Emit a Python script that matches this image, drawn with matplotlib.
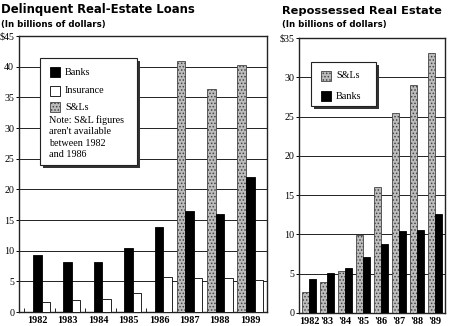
import matplotlib
matplotlib.use("Agg")
import matplotlib.pyplot as plt
from matplotlib.patches import Rectangle
import numpy as np

# Delinquent real-estate loans (billions of dollars)
years = ["1982", "1983", "1984", "1985", "1986", "1987", "1988", "1989"]
banks_del = [9.3, 8.1, 8.1, 10.4, 13.8, 16.5, 15.9, 22.0]
insur_del = [1.6, 2.0, 2.1, 3.1, 5.7, 5.5, 5.5, 5.2]
snl_del = [np.nan, np.nan, np.nan, np.nan, np.nan, 41.0, 36.4, 40.3]

# Repossessed real estate (billions of dollars)
years_r = ["1982", "'83", "'84", "'85", "'86", "'87", "'88", "'89"]
snl_rep = [2.7, 3.9, 5.4, 9.9, 16.0, 25.5, 29.0, 33.1]
banks_rep = [4.3, 5.1, 5.7, 7.1, 8.8, 10.4, 10.6, 12.6]

W, H = 449, 326
plt.rcParams['hatch.linewidth'] = 0.7
serif = "Liberation Serif"
snl_style = dict(facecolor="#bdbdbd", edgecolor="#444444", hatch=".....", linewidth=0.6)


def fx(px):
    return px / W


def fy(py):
    return 1 - py / H


def legend_box(fig, x0, y0, x1, y1):
    # box with a drop shadow, in pixel coords of the figure
    fig.patches.append(Rectangle((fx(x0 + 2.5), fy(y1 + 2.5)), fx(x1 - x0), (y1 - y0) / H,
                                 transform=fig.transFigure, facecolor="#333333", edgecolor="none", zorder=5))
    fig.patches.append(Rectangle((fx(x0), fy(y1)), fx(x1 - x0), (y1 - y0) / H,
                                 transform=fig.transFigure, facecolor="white", edgecolor="#222222",
                                 linewidth=0.8, zorder=6))


def legend_item(fig, px, py, label, **style):
    fig.patches.append(Rectangle((fx(px), fy(py + 5)), fx(10), 10 / H, transform=fig.transFigure,
                                 zorder=7, **style))
    fig.text(fx(px + 15), fy(py), label, fontsize=7.3, family=serif, va="center", zorder=8)


fig = plt.figure(figsize=(W / 100, H / 100), dpi=100)

# ---- left chart
ax1 = fig.add_axes([fx(19), fy(312), fx(267 - 19), (312 - 36) / H])
x = np.arange(len(years))
w = 0.28
ax1.bar(x - w, snl_del, w, zorder=3, **snl_style)
ax1.bar(x, banks_del, w, color="black", edgecolor="black", linewidth=0.6, zorder=3)
ax1.bar(x + w, insur_del, w, color="white", edgecolor="black", linewidth=0.6, zorder=3)
ax1.set_xlim(-0.6, 7.55)
ax1.set_ylim(0, 45)
ax1.set_yticks(range(0, 46, 5))
ax1.set_yticklabels(["0", "5", "10", "15", "20", "25", "30", "35", "40", "$45"])
ax1.set_xticks(x)
ax1.set_xticklabels(years)
ax1.set_xticks(x - 1.5 * w, minor=True)
ax1.tick_params(axis="x", which="minor", direction="in", length=3, width=0.6)

# ---- right chart
ax2 = fig.add_axes([fx(299), fy(313), fx(445 - 299), (313 - 38) / H])
x2 = np.arange(len(years_r))
w2 = 0.39
ax2.bar(x2 - w2 / 2, snl_rep, w2, zorder=3, **snl_style)
ax2.bar(x2 + w2 / 2, banks_rep, w2, color="black", edgecolor="black", linewidth=0.6, zorder=3)
ax2.set_xlim(-0.56, 7.56)
ax2.set_ylim(0, 35)
ax2.set_yticks(range(0, 36, 5))
ax2.set_yticklabels(["0", "5", "10", "15", "20", "25", "30", "$35"])
ax2.set_xticks(x2)
ax2.set_xticklabels(years_r)

for ax in (ax1, ax2):
    ax.set_axisbelow(True)
    ax.yaxis.grid(True, color="#222222", linewidth=0.7)
    for s in ax.spines.values():
        s.set_linewidth(1.0)
        s.set_color("#222222")
    ax.tick_params(axis="y", length=2.5, width=0.7, pad=1, labelsize=7.2)
    ax.tick_params(axis="x", which="major", length=0, pad=3, labelsize=7.3)
    for lab in ax.get_yticklabels():
        lab.set_family(serif)
    for lab in ax.get_xticklabels():
        lab.set_family(serif)
        lab.set_fontweight("bold")

# ---- titles
fig.text(fx(1), fy(9), "Delinquent Real-Estate Loans", fontsize=8.4, fontweight="heavy", va="center")
fig.text(fx(1), fy(24), "(In billions of dollars)", fontsize=6.2, fontweight="bold", va="center")
fig.text(fx(282), fy(11), "Repossessed Real Estate", fontsize=8.2, fontweight="heavy", va="center")
fig.text(fx(282), fy(25), "(In billions of dollars)", fontsize=6.2, fontweight="bold", va="center")

# ---- legends
legend_box(fig, 40, 58, 137, 165)
legend_item(fig, 50, 72, "Banks", facecolor="black", edgecolor="black", linewidth=0.6)
legend_item(fig, 50, 91, "Insurance", facecolor="white", edgecolor="black", linewidth=0.6)
legend_item(fig, 50, 107, "S&Ls", **snl_style)
fig.text(fx(49), fy(115), "Note: S&L figures\naren't available\nbetween 1982\nand 1986",
         fontsize=7.3, family=serif, va="top", linespacing=1.35, zorder=8)

legend_box(fig, 311, 62, 376, 106)
legend_item(fig, 321, 76, "S&Ls", **snl_style)
legend_item(fig, 321, 96, "Banks", facecolor="black", edgecolor="black", linewidth=0.6)

fig.savefig("out.png", dpi=100)
